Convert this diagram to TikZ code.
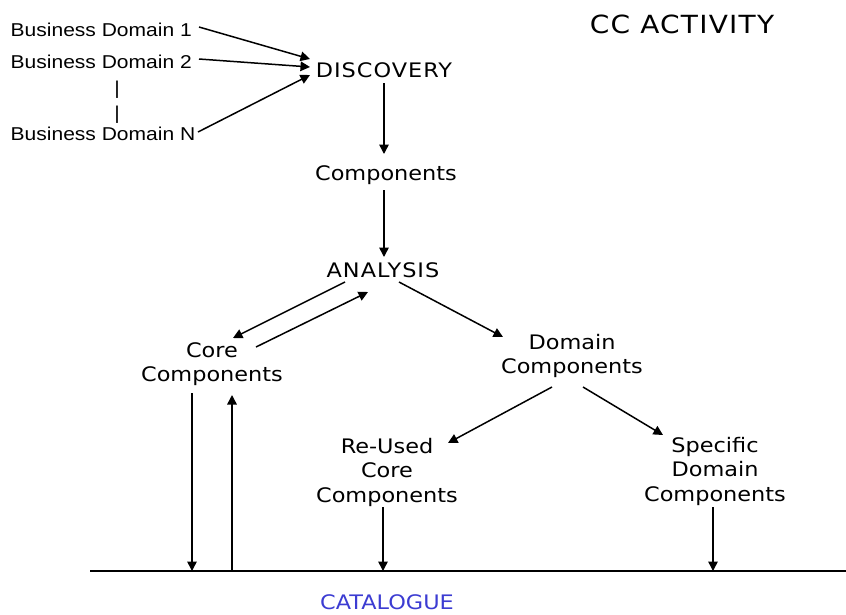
\documentclass[tikz,border=0pt]{standalone}
\usepackage{fontspec}
\setmainfont{DejaVu Sans}[FakeStretch=1.12]
\newfontfamily\bdfont{Liberation Sans}[FakeStretch=1.13]
\usetikzlibrary{arrows.meta,calc}
\definecolor{catblue}{RGB}{60,60,210}
\begin{document}
\begin{tikzpicture}[x=1pt,y=-1pt,
  lbl/.style={inner sep=0pt,anchor=base,font=\fontsize{20}{24.5}\selectfont},
  capslbl/.style={lbl,font=\fontsize{20}{24.5}\selectfont\addfontfeature{LetterSpace=5}},
  bdlbl/.style={inner sep=0pt,anchor=base west,font=\bdfont\fontsize{18.6}{25}\selectfont},
  arr/.style={line width=1.5pt,-{Triangle[length=9.5pt,width=9.5pt]}},
  ln/.style={line width=1.5pt}]
\useasboundingbox (0,0) rectangle (846,614);

% labels
\node[bdlbl] (bd1) at (10.5,36) {Business Domain 1};
\node[bdlbl] (bd2) at (10.5,68) {Business Domain 2};
\node[bdlbl] (bdn) at (10.5,140) {Business Domain N};
\node[inner sep=0pt,anchor=base,font=\bdfont\fontsize{18.6}{25}\selectfont] (bars) at (117,94)
  {\begin{tabular}[t]{@{}c@{}}|\\|\end{tabular}};
\node[inner sep=0pt,anchor=base,font=\fontsize{25}{30}\selectfont\addfontfeature{LetterSpace=5}] (cc) at (682,33) {CC ACTIVITY};
\node[capslbl] (disc) at (384,77) {DISCOVERY};
\node[lbl] (comp) at (386,180) {Components};
\node[capslbl] (ana) at (383,277) {ANALYSIS};
\node[lbl] (core) at (212,357) {\begin{tabular}[t]{@{}c@{}}Core\\Components\end{tabular}};
\node[lbl] (dom) at (572,349) {\begin{tabular}[t]{@{}c@{}}Domain\\Components\end{tabular}};
\node[lbl] (reused) at (387,453) {\begin{tabular}[t]{@{}c@{}}Re-Used\\Core\\Components\end{tabular}};
\node[lbl] (spec) at (715,452) {\begin{tabular}[t]{@{}c@{}}Specific\\Domain\\Components\end{tabular}};
\node[lbl,text=catblue] (cat) at (387,609) {CATALOGUE};

% catalogue line
\coordinate (catL) at (90,571);
\coordinate (catR) at (846,571);
\draw[line width=2pt] (catL) -- (catR);

% free ends of the vertical connectors
\coordinate (coreD) at ($(core.base)+(-20,36)$);
\coordinate (coreU) at ($(core.base)+(20,38)$);
\coordinate (reuD) at ($(reused.base)+(-4,54)$);
\coordinate (specD) at ($(spec.base)+(-2,55)$);

% connectors
\draw[arr] ($(bd1.base west)+(188.5,-9)$) -- ($(disc.base)+(-74,-18)$);
\draw[arr] ($(bd2.base west)+(188.5,-9)$) -- ($(disc.base)+(-74,-10)$);
\draw[arr] ($(bdn.base west)+(187.5,-8)$) -- ($(disc.base)+(-74,-2)$);
\draw[arr] ($(disc.base)+(0,6)$) -- ($(comp.base)+(-2,-26)$);
\draw[arr] ($(comp.base)+(-2,10)$) -- ($(ana.base)+(1,-20)$);
\draw[arr] ($(ana.base)+(-38,5)$) -- ($(core.base)+(21,-19)$);
\draw[arr] ($(core.base)+(44,-10)$) -- ($(ana.base)+(-15,15)$);
\draw[arr] ($(ana.base)+(16,5)$) -- ($(dom.base)+(-69,-12)$);
\draw[arr] ($(dom.base)+(-20,38)$) -- ($(reused.base)+(61,-10)$);
\draw[arr] ($(dom.base)+(11,38)$) -- ($(spec.base)+(-52,-17)$);
\draw[arr] (coreD) -- (coreD |- catL);
\draw[arr] (coreU |- catL) -- (coreU);
\draw[arr] (reuD) -- (reuD |- catL);
\draw[arr] (specD) -- (specD |- catL);
\end{tikzpicture}
\end{document}
